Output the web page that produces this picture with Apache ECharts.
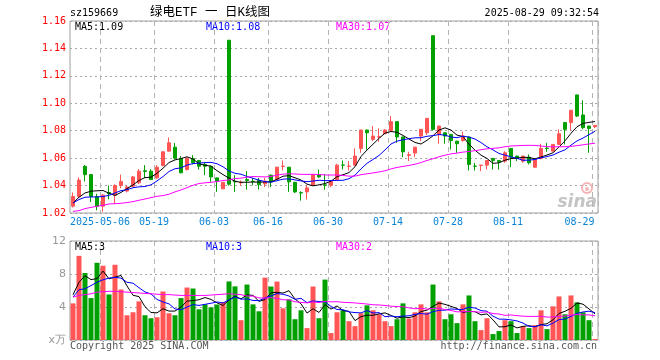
<!DOCTYPE html>
<html>
<head>
<meta charset="utf-8">
<script src="https://cdn.jsdelivr.net/npm/echarts@6/dist/echarts.min.js"></script>
<style>
html,body{margin:0;padding:0;background:#fff;}
#c{width:660px;height:360px;}
</style>
</head>
<body>
<div id="c"></div>
<script>
// ---------- data ----------
const dates = [
'2025-04-24','2025-04-25','2025-04-28','2025-04-29','2025-04-30',
'2025-05-06','2025-05-07','2025-05-08','2025-05-09','2025-05-12','2025-05-13','2025-05-14','2025-05-15','2025-05-16',
'2025-05-19','2025-05-20','2025-05-21','2025-05-22','2025-05-23','2025-05-26','2025-05-27','2025-05-28','2025-05-29','2025-05-30',
'2025-06-03','2025-06-04','2025-06-05','2025-06-06','2025-06-09','2025-06-10','2025-06-11','2025-06-12','2025-06-13',
'2025-06-16','2025-06-17','2025-06-18','2025-06-19','2025-06-20','2025-06-23','2025-06-24','2025-06-25','2025-06-26','2025-06-27',
'2025-06-30','2025-07-01','2025-07-02','2025-07-03','2025-07-04','2025-07-07','2025-07-08','2025-07-09','2025-07-10','2025-07-11',
'2025-07-14','2025-07-15','2025-07-16','2025-07-17','2025-07-18','2025-07-21','2025-07-22','2025-07-23','2025-07-24','2025-07-25',
'2025-07-28','2025-07-29','2025-07-30','2025-07-31','2025-08-01','2025-08-04','2025-08-05','2025-08-06','2025-08-07','2025-08-08',
'2025-08-11','2025-08-12','2025-08-13','2025-08-14','2025-08-15','2025-08-18','2025-08-19','2025-08-20','2025-08-21','2025-08-22',
'2025-08-25','2025-08-26','2025-08-27','2025-08-28','2025-08-29'
];
const opens = [
1.025,1.032,1.054,1.048,1.032,1.025,1.035,1.033,1.040,1.036,
1.0395,1.042,1.0508,1.0505,1.0456,1.0546,1.0651,1.068,1.0598,1.0517,
1.0598,1.0583,1.0554,1.0541,1.0456,1.0376,1.146,1.0432,1.042,1.0444,
1.0432,1.0437,1.0412,1.0476,1.0444,1.054,1.0534,1.0424,1.0348,1.0354,
1.0402,1.048,1.0405,1.0402,1.0444,1.055,1.054,1.0549,1.0671,1.0805,
1.0737,1.0754,1.0778,1.0802,1.0866,1.0754,1.062,1.0637,1.0761,1.0785,
1.1493,1.0773,1.0785,1.0773,1.0724,1.0729,1.0754,1.0542,1.0547,1.0549,
1.0598,1.0583,1.0578,1.0671,1.0615,1.0578,1.0607,1.0534,1.0598,1.0673,
1.0651,1.070,1.0859,1.0859,1.1061,1.0915,1.0834,1.0829
];
const closes = [
1.032,1.044,1.048,1.032,1.025,1.033,1.034,1.040,1.043,1.039,
1.0463,1.0505,1.0503,1.0444,1.0534,1.0646,1.0712,1.060,1.0493,1.0598,
1.0566,1.0541,1.0541,1.0463,1.0432,1.0424,1.041,1.0427,1.0425,1.0437,
1.043,1.0407,1.0432,1.0427,1.0534,1.0542,1.0427,1.0354,1.0346,1.0383,
1.048,1.0463,1.0402,1.0432,1.0549,1.0549,1.0542,1.0615,1.0805,1.0785,
1.0761,1.0756,1.0805,1.0866,1.0754,1.0646,1.0625,1.068,1.081,1.089,
1.081,1.0834,1.0761,1.0729,1.0705,1.0761,1.0554,1.0541,1.0549,1.0583,
1.0583,1.0573,1.0639,1.0607,1.0598,1.0615,1.0566,1.059,1.0671,1.067,
1.070,1.0778,1.081,1.0949,1.0907,1.0822,1.0817,1.0839
];
const lows = [
1.024,1.031,1.043,1.028,1.022,1.021,1.030,1.027,1.038,1.035,
1.039,1.041,1.0456,1.044,1.045,1.054,1.065,1.059,1.049,1.051,
1.0554,1.0517,1.0476,1.0427,1.0354,1.0375,1.040,1.0354,1.040,1.0371,
1.0402,1.0371,1.039,1.0388,1.044,1.051,1.0354,1.0346,1.029,1.0298,
1.040,1.0456,1.0371,1.0388,1.0437,1.0517,1.051,1.0546,1.0639,1.0663,
1.0724,1.072,1.0775,1.0798,1.0712,1.0607,1.0578,1.0607,1.0724,1.0768,
1.080,1.0705,1.0705,1.0663,1.0639,1.072,1.051,1.051,1.0505,1.0517,
1.0517,1.0517,1.0566,1.0534,1.0578,1.0566,1.0554,1.053,1.059,1.0646,
1.065,1.0698,1.070,1.0802,1.090,1.081,1.0639,1.082
];
const highs = [
1.035,1.046,1.055,1.048,1.034,1.034,1.040,1.041,1.048,1.040,
1.047,1.052,1.0549,1.052,1.055,1.065,1.075,1.071,1.0615,1.0607,
1.0622,1.0585,1.0566,1.0545,1.0458,1.0426,1.146,1.0476,1.0437,1.0505,
1.0456,1.0456,1.0456,1.048,1.0536,1.0583,1.0536,1.0426,1.0359,1.0402,
1.0485,1.0517,1.0485,1.0435,1.0559,1.0583,1.0578,1.0671,1.0808,1.0807,
1.0834,1.0817,1.081,1.0907,1.087,1.0756,1.0646,1.0682,1.0812,1.0893,
1.1493,1.0836,1.0787,1.0775,1.0726,1.0793,1.0756,1.0566,1.055,1.0585,
1.060,1.0585,1.0651,1.0673,1.0617,1.0617,1.0627,1.0592,1.0705,1.0712,
1.0702,1.081,1.0861,1.0951,1.1063,1.1022,1.0836,1.0841
];
const volumes = [
4.44,10.2,8.12,5.08,9.36,9.0,5.52,9.12,6.12,3.0,
3.36,4.68,3.0,2.64,2.76,5.88,3.24,3.0,5.08,6.36,
6.24,3.72,4.32,3.96,4.3,4.6,7.1,6.5,2.4,6.72,
4.32,3.48,7.56,6.48,7.08,3.84,4.92,2.52,3.6,1.44,
6.48,2.64,7.32,0.84,3.36,3.6,2.28,1.68,3.24,4.2,
3.6,3.12,2.28,1.68,2.52,4.44,2.6,3.36,4.32,3.36,
6.72,4.68,2.52,3.12,2.04,4.32,5.4,2.28,1.2,2.64,
0.72,1.08,2.4,2.28,0.84,1.68,1.44,1.8,3.6,1.32,
4.08,5.28,3.12,5.4,4.56,3.36,2.4,0.12
];
// moving-average values at the left edge (they depend on days before the window)
const ma5Head = [1.0273,1.0315,1.0346,1.0359];
const ma10Head = [1.0273,1.0298,1.0315,1.0317,1.0317,1.032,1.0329,1.0346,1.0363];
const ma30Head = [1.0212,1.0217,1.0232,1.0241,1.0249,1.0256,1.0266,1.0268,1.0271,1.0276,1.0283,1.0293,1.0302,1.0312,1.0322,1.0327,1.0337,1.0354,1.0368,1.0385,1.0402,1.0415,1.042,1.0424,1.0429,1.0437,1.0441,1.0451,1.0454];
const vma5Head = [5.48,7.0,7.8,7.32];
const vma10Head = [5.2,6.1,6.2,6.6,7.0,7.3,7.5,7.6,7.5];
const vma30Head = [5.2,5.4,5.5,5.6,5.8,5.85,5.9,5.9,5.85,5.8,5.75,5.7,5.65,5.6,5.55,5.5,5.5,5.45,5.4,5.4,5.4,5.4,5.4,5.45,5.5,5.55,5.6,5.55,5.5];

const tickDates = ['2025-05-06','2025-05-19','2025-06-03','2025-06-16','2025-06-30','2025-07-14','2025-07-28','2025-08-11','2025-08-29'];
const tickLabels = ['2025-05-06','05-19','06-03','06-16','06-30','07-14','07-28','08-11','08-29'];
const priceTicks = [1.02,1.04,1.06,1.08,1.10,1.12,1.14,1.16];
const volTicks = [0,4,8,12];
const priceLegend = ['MA5:1.09','MA10:1.08','MA30:1.07'];
const volLegend = ['MA5:3','MA10:3','MA30:2'];
const headerCode = 'sz159669';
const headerTitle = '绿电ETF 一 日K线图';
const headerTime = '2025-08-29 09:32:54';

// ---------- helpers ----------
function movingAvg(vals, n, head){
  return vals.map((v,i)=>{
    if(i < n-1) return head[i];
    let s=0; for(let k=i-n+1;k<=i;k++) s+=vals[k];
    return +(s/n).toFixed(5);
  });
}
const UP='#ff5555', DOWN='#00a000';
const MONO='"DejaVu Sans Mono","Liberation Mono",monospace';
const candles = opens.map((o,i)=>[o, closes[i], lows[i], highs[i]]);
const volData = volumes.map((v,i)=>({value:v, itemStyle:{color: closes[i]>=opens[i]?UP:DOWN}}));
const isTick = (idx, val) => tickDates.indexOf(val) >= 0;

const chart = echarts.init(document.getElementById('c'), null, {renderer:'canvas'});
const maLine = (name, data, color, xi) => ({
  name, type:'line', data, xAxisIndex:xi, yAxisIndex:xi, showSymbol:false, symbol:'none',
  lineStyle:{width:1,color}, itemStyle:{color}, silent:true, animation:false, z:5
});
const xBase = (gi) => ({
  type:'category', gridIndex:gi, data:dates, boundaryGap:true,
  axisLine:{show:false}, axisTick:{show:false},
  splitLine:{show:true, interval:isTick, lineStyle:{type:[5,4], color:'#b4b4b4', width:1}},
});
const lbl = (t,c,x,y,font,align) => ({type:'text', x, y, silent:true,
  style:{text:t, fill:c, font:font||('10px '+MONO), align:align||'left', verticalAlign:'middle'}});

chart.setOption({
  animation:false,
  backgroundColor:'#fff',
  grid:[
    {left:70, top:21, width:528, height:192, show:true, borderColor:'#a0a0a0', borderWidth:1},
    {left:70, top:241, width:528, height:99, show:true, borderColor:'#a0a0a0', borderWidth:1}
  ],
  xAxis:[
    Object.assign(xBase(0), {
      axisLabel:{show:true, interval:isTick, margin:4, color:'#0a84d6', fontSize:10, fontFamily:MONO,
        formatter:(v)=>{ const k=tickDates.indexOf(v); const t=tickLabels[k];
          return k===tickDates.length-1 ? '{e|'+t+'}' : '{n|'+t+'}'; },
        rich:{n:{padding:[0,6,0,0], color:'#0a84d6', fontSize:10, fontFamily:MONO},
              e:{padding:[0,31,0,0], color:'#0a84d6', fontSize:10, fontFamily:MONO}}}
    }),
    Object.assign(xBase(1), {axisLabel:{show:false}})
  ],
  yAxis:[
    {type:'value', gridIndex:0, min:priceTicks[0], max:priceTicks[priceTicks.length-1], interval:0.02, scale:true,
     axisLine:{show:false}, axisTick:{show:false},
     axisLabel:{color:'#ff0000', fontSize:10, fontFamily:MONO, margin:4, formatter:(v)=>v.toFixed(2),
                showMinLabel:true, showMaxLabel:true},
     splitLine:{show:true, lineStyle:{type:[2,3], color:'#a8a8a8'}}},
    {type:'value', gridIndex:1, min:volTicks[0], max:volTicks[volTicks.length-1], interval:4,
     axisLine:{show:false}, axisTick:{show:false},
     axisLabel:{color:'#999', fontSize:11, fontFamily:'"DejaVu Sans",sans-serif', margin:4,
                formatter:(v)=> v===0 ? 'x万' : String(v)},
     splitLine:{show:true, lineStyle:{type:[2,3], color:'#a8a8a8'}}}
  ],
  series:[
    {type:'candlestick', name:'K', data:candles, xAxisIndex:0, yAxisIndex:0, barWidth:4, z:3,
     itemStyle:{color:UP, color0:DOWN, borderColor:UP, borderColor0:DOWN, borderWidth:1}},
    maLine('MA5', movingAvg(closes,5,ma5Head), '#000000', 0),
    maLine('MA10', movingAvg(closes,10,ma10Head), '#0000ff', 0),
    maLine('MA30', movingAvg(closes,30,ma30Head), '#ff00ff', 0),
    {type:'bar', name:'VOL', data:volData, xAxisIndex:1, yAxisIndex:1, barWidth:5, z:3},
    maLine('VMA5', movingAvg(volumes,5,vma5Head), '#000000', 1),
    maLine('VMA10', movingAvg(volumes,10,vma10Head), '#0000ff', 1),
    maLine('VMA30', movingAvg(volumes,30,vma30Head), '#ff00ff', 1)
  ],
  graphic:[
    lbl(headerCode,'#000',70,13),
    lbl(headerTitle,'#000',150,13,'12.5px "Liberation Mono","Noto Sans CJK SC",sans-serif'),
    lbl(headerTime,'#000',599,13,null,'right'),
    lbl(priceLegend[0],'#000',75,27),
    lbl(priceLegend[1],'#0000ff',206,27),
    lbl(priceLegend[2],'#ff00ff',336,27),
    lbl(volLegend[0],'#000',75,247),
    lbl(volLegend[1],'#0000ff',206,247),
    lbl(volLegend[2],'#ff00ff',336,247),
    lbl('Copyright 2025 SINA.COM','#555',70,346),
    lbl('http://finance.sina.com.cn','#555',597,346,null,'right'),
    {type:'circle', shape:{cx:587, cy:188, r:5}, silent:true, z:1,
     style:{fill:'none', stroke:'#f3b5b5', lineWidth:2}},
    {type:'circle', shape:{cx:587, cy:189, r:2}, silent:true, z:1, style:{fill:'#f3b5b5'}},
    lbl('sina','#c4c4c4',597,203,'italic bold 17px "DejaVu Sans",sans-serif','right')
  ]
});
</script>
</body>
</html>
